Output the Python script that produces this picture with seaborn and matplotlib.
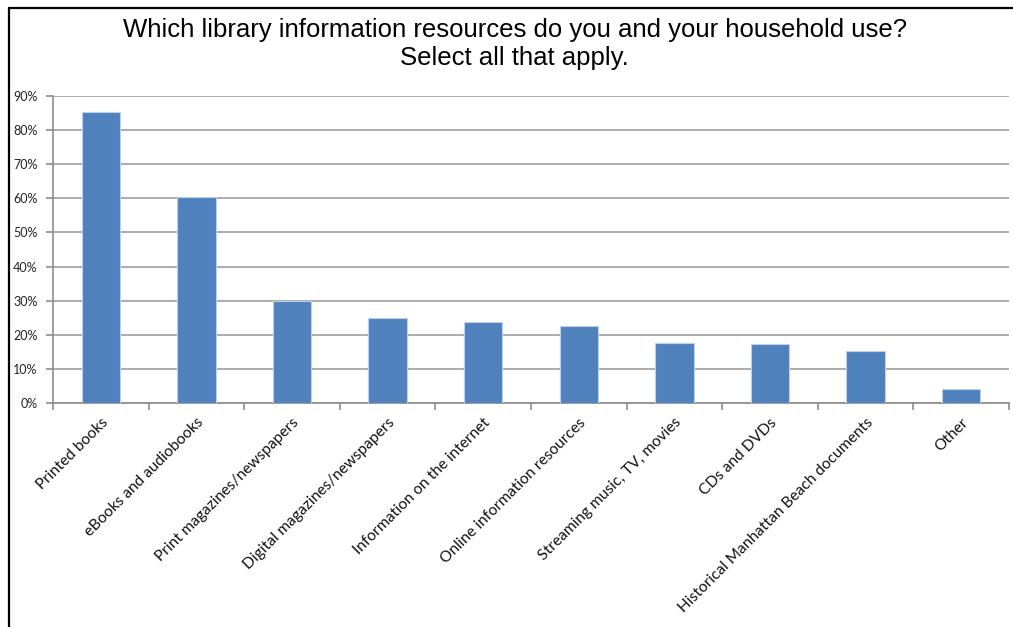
import matplotlib
matplotlib.use("Agg")
import matplotlib.pyplot as plt
from matplotlib.lines import Line2D
from matplotlib.ticker import FixedLocator, PercentFormatter
import seaborn as sns
import pandas as pd

categories = [
    "Printed books",
    "eBooks and audiobooks",
    "Print magazines/newspapers",
    "Digital magazines/newspapers",
    "Information on the internet",
    "Online information resources",
    "Streaming music, TV, movies",
    "CDs and DVDs",
    "Historical Manhattan Beach documents",
    "Other",
]
shares = [85.4, 60.4, 30.0, 24.8, 23.7, 22.7, 17.7, 17.2, 15.1, 4.1]
y_ticks = [0, 10, 20, 30, 40, 50, 60, 70, 80, 90]
title = "Which library information resources do you and your household use?\nSelect all that apply."

df = pd.DataFrame({"resource": categories, "share": shares})

sns.set_theme(style="white")
plt.rcParams["font.family"] = ["Lato", "DejaVu Sans"]

fig = plt.figure(figsize=(10.13, 6.27), dpi=100)
ax = fig.add_axes([53 / 1013, 1 - 403 / 627, (1009 - 53) / 1013, (403 - 96) / 627])

sns.barplot(data=df, x="resource", y="share", color="#4F81BD", width=0.4,
            saturation=1, edgecolor="#bcd0e8", linewidth=0.8, ax=ax, zorder=3)

ax.set_xlim(-0.5, len(categories) - 0.5)
ax.set_ylim(0, 90)
ax.yaxis.set_major_locator(FixedLocator(y_ticks))
ax.yaxis.set_major_formatter(PercentFormatter(decimals=0))
ax.grid(axis="y", color="#a6a6a6", linewidth=1.3, zorder=0)
ax.set_axisbelow(True)
ax.set_xlabel("")
ax.set_ylabel("")

for side in ("top", "right"):
    ax.spines[side].set_visible(False)
for side in ("left", "bottom"):
    ax.spines[side].set_color("#8c8c8c")
    ax.spines[side].set_linewidth(1.2)

# category boundary ticks on the x axis
ax.set_xticks([i - 0.5 for i in range(len(categories) + 1)], minor=True)
ax.tick_params(axis="x", which="minor", direction="out", length=5, width=1.2,
               color="#8c8c8c", bottom=True)
ax.tick_params(axis="x", which="major", length=0, pad=9)
ax.tick_params(axis="y", which="major", direction="out", length=5, width=1.2,
               color="#8c8c8c", left=True, labelsize=9, pad=6, labelcolor="#222222")
ax.set_xticks(range(len(categories)))
ax.set_xticklabels(categories, rotation=45, ha="right", rotation_mode="anchor",
                   fontsize=11.2, color="#111111")

fig.text(0.508, 1 - 44 / 627, title, ha="center", va="center",
         fontsize=18.5, family=["Liberation Sans", "DejaVu Sans"], color="black",
         linespacing=1.2)

# frame lines along the left and top edges
fig.add_artist(Line2D([9 / 1013, 9 / 1013], [0, 1 - 8 / 627], transform=fig.transFigure,
                      color="black", linewidth=1.6))
fig.add_artist(Line2D([9 / 1013, 1], [1 - 8 / 627, 1 - 8 / 627], transform=fig.transFigure,
                      color="black", linewidth=1.6))

fig.savefig("out.png", dpi=100, facecolor="white")
